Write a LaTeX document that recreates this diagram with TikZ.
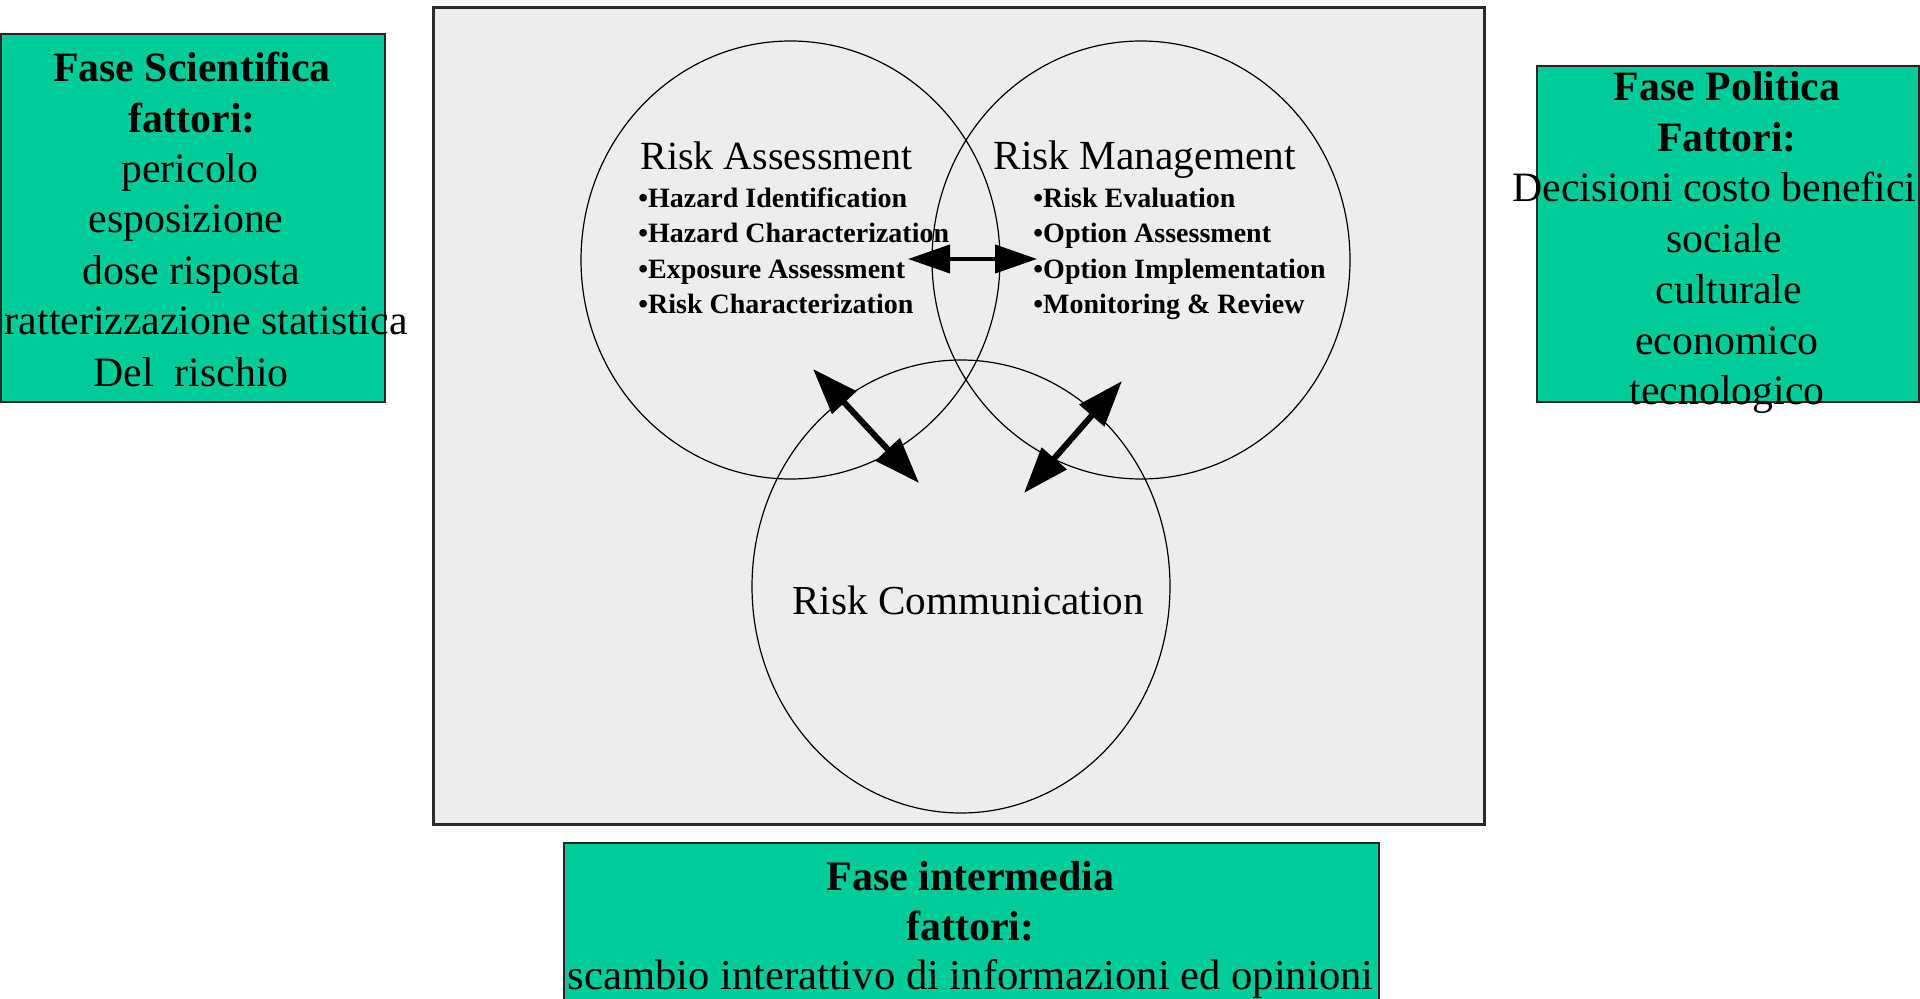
\documentclass[tikz,border=0pt]{standalone}
\usepackage{fontspec}
\setmainfont{Liberation Serif}
\usetikzlibrary{shapes.geometric,arrows.meta}
\definecolor{boxgreen}{HTML}{00CC99}
\definecolor{panelgray}{HTML}{EDEDED}
\definecolor{panelline}{HTML}{2A2A2A}
\tikzset{
  phasebox/.style={draw=black!85, line width=1pt, fill=boxgreen, inner sep=0, anchor=north west},
  boxtitle/.style={font=\fontsize{20.9}{25}\selectfont\bfseries, anchor=base, inner sep=0},
  boxline/.style={font=\fontsize{20.9}{25}\selectfont, anchor=base, inner sep=0},
  venn/.style={draw=black, line width=0.6pt, ellipse, inner sep=0},
  head/.style={font=\fontsize{20}{24}\selectfont, anchor=base west, inner sep=0},
  item/.style={font=\fontsize{14}{17}\selectfont\bfseries, anchor=base west, inner sep=0},
  link/.style={line width=2pt, {Triangle[length=21pt,width=14pt]}-{Triangle[length=21pt,width=14pt]}},
  biglink/.style={line width=3pt, {Triangle[length=23pt,width=16pt]}-{Triangle[length=23pt,width=16pt]}},
}
\begin{document}
\begin{tikzpicture}[x=0.5pt,y=-0.5pt]
\useasboundingbox (0,0) rectangle (1920,999);
\clip (0,0) rectangle (1920,999);
% central panel
\node[draw=panelline, line width=1.3pt, fill=panelgray, anchor=north west, inner sep=0,
      minimum width=525.5pt, minimum height=408.5pt] (panel) at (432,6) {};
% circles
\node[venn, minimum width=209.5pt, minimum height=219pt] (ra) at (790.5,260) {};
\node[venn, minimum width=209pt, minimum height=219pt] (rm) at (1141,260) {};
\node[venn, minimum width=209pt, minimum height=226.5pt] (rc) at (961,586.5) {};
% circle texts
\node[head] (raT) at (640,170) {Risk Assessment};
\node[item] (ra1) at (638,208) {•Hazard Identification};
\node[item] (ra2) at (638,243) {•Hazard Characterization};
\node[item] (ra3) at (638,279) {•Exposure Assessment};
\node[item] (ra4) at (638,314) {•Risk Characterization};
\node[head, font=\fontsize{20.7}{24}\selectfont] (rmT) at (993,170) {Risk Management};
\node[item] (rm1) at (1033,208) {•Risk Evaluation};
\node[item] (rm2) at (1033,243) {•Option Assessment};
\node[item] (rm3) at (1033,279) {•Option Implementation};
\node[item] (rm4) at (1033,314) {•Monitoring \& Review};
\node[head, font=\fontsize{20.6}{24}\selectfont] (rcT) at (792,614) {Risk Communication};
% arrows
\coordinate (h1) at (908,259);
\coordinate (h2) at (1037,259);
\coordinate (l1) at (813,369);
\coordinate (l2) at (919,483);
\coordinate (r1) at (1122,381);
\coordinate (r2) at (1024,493);
\draw[link] (h1) -- (h2);
\draw[biglink] (l1) -- (l2);
\draw[biglink] (r1) -- (r2);
% left phase box
\node[phasebox, minimum width=192pt, minimum height=184pt] (sci) at (0,33) {};
\node[boxtitle] (sci1) at (192,82) {Fase Scientifica};
\node[boxtitle] (sci2) at (192,133) {fattori:};
\node[boxline] (sci3) at (190,183) {pericolo};
\node[boxline] (sci4) at (186,233) {esposizione};
\node[boxline] (sci5) at (191,285) {dose risposta};
\node[boxline, anchor=base east] (sci6) at (408,335) {ratterizzazione statistica};
\node[boxline] (sci7) at (191,387) {Del\ \ rischio};
% right phase box
\node[phasebox, minimum width=191pt, minimum height=168pt] (pol) at (1536,65) {};
\node[boxtitle] (pol1) at (1727,101) {Fase Politica};
\node[boxtitle] (pol2) at (1727,152) {Fattori:};
\node[boxline, anchor=base west] (pol3) at (1512,202) {Decisioni costo benefici};
\node[boxline] (pol4) at (1724,253) {sociale};
\node[boxline] (pol5) at (1729,304) {culturale};
\node[boxline] (pol6) at (1727,355) {economico};
\node[boxline] (pol7) at (1727,405) {tecnologico};
% bottom phase box
\node[phasebox, minimum width=407.5pt, minimum height=90pt] (mid) at (563,842) {};
\node[boxtitle, font=\fontsize{21}{25}\selectfont\bfseries] (mid1) at (970.5,890) {Fase intermedia};
\node[boxtitle, font=\fontsize{21}{25}\selectfont\bfseries] (mid2) at (970.5,940) {fattori:};
\node[boxline, font=\fontsize{21.3}{25}\selectfont] (mid3) at (970.5,989) {scambio interattivo di informazioni ed opinioni};
\end{tikzpicture}
\end{document}
